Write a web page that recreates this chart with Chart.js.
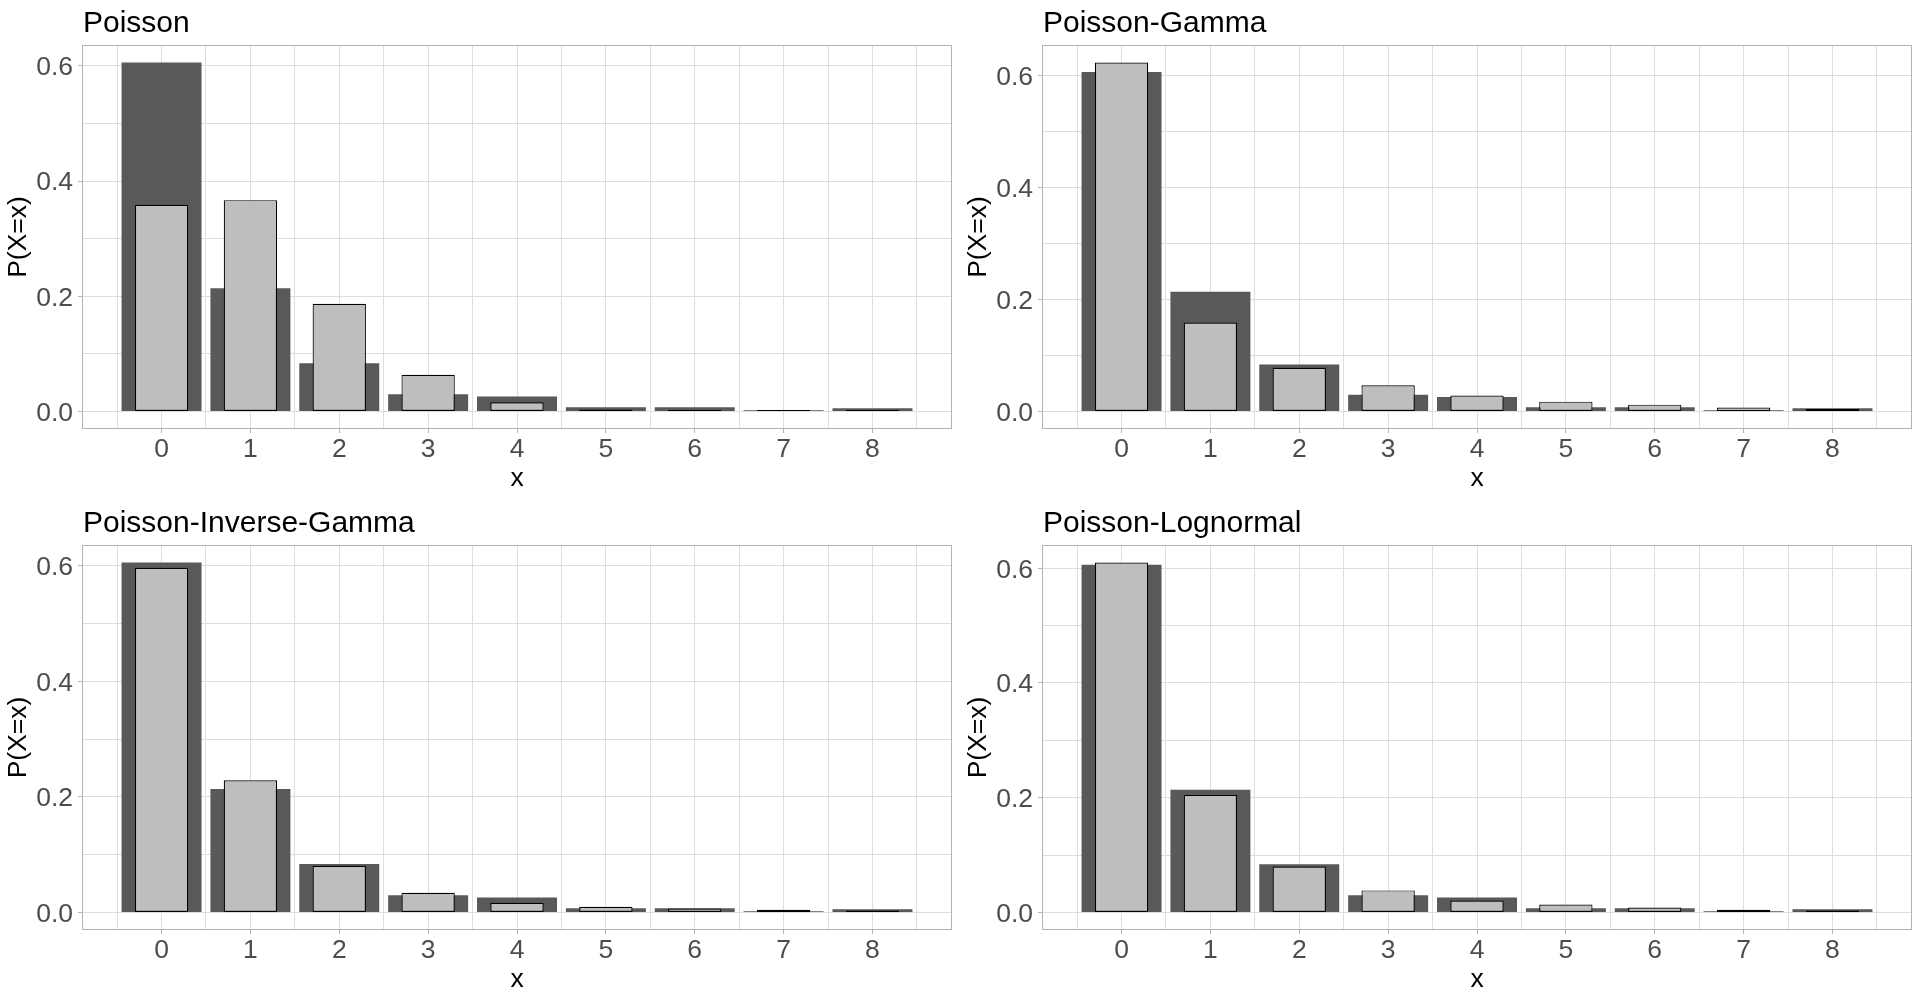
<!DOCTYPE html>
<html>
<head>
<meta charset="utf-8">
<script src="https://cdn.jsdelivr.net/npm/chart.js@4"></script>
<style>
  html, body { margin: 0; padding: 0; background: #fff; }
  .grid { display: grid; grid-template-columns: 960px 960px; grid-template-rows: 500px 501px; width: 1920px; height: 1001px; }
  canvas { display: block; }
</style>
</head>
<body>
<div class="grid">
  <div><canvas id="c0" width="960" height="500"></canvas></div>
  <div><canvas id="c1" width="960" height="500"></canvas></div>
  <div><canvas id="c2" width="960" height="501"></canvas></div>
  <div><canvas id="c3" width="960" height="501"></canvas></div>
</div>
<script>
// counts on the x axis
const categories = [0, 1, 2, 3, 4, 5, 6, 7, 8];

// observed frequencies (dark bars, same in every panel)
const observed = [0.606, 0.214, 0.084, 0.030, 0.026, 0.0075, 0.0075, 0.0023, 0.0058];

// fitted probabilities (light bars)
const fitPoisson = [0.359, 0.367, 0.187, 0.064, 0.0162, 0.0034, 0.0006, 0.0001, 0.00001];
const fitPoissonGamma = [0.623, 0.159, 0.078, 0.047, 0.0285, 0.0177, 0.0123, 0.0070, 0.0046];
const fitPoissonInvGamma = [0.597, 0.229, 0.081, 0.034, 0.0168, 0.0098, 0.0070, 0.0046, 0.0035];
const fitPoissonLognormal = [0.610, 0.205, 0.080, 0.0385, 0.021, 0.014, 0.0087, 0.0047, 0.0035];

const panelTitles = ['Poisson', 'Poisson-Gamma', 'Poisson-Inverse-Gamma', 'Poisson-Lognormal'];
const panelFits = [fitPoisson, fitPoissonGamma, fitPoissonInvGamma, fitPoissonLognormal];

// y grid lines every 0.1, labels every 0.2
const yGridValues = [0, 0.1, 0.2, 0.3, 0.4, 0.5, 0.6];
const yLabelValues = [0, 0.2, 0.4, 0.6];

const FONT = "'Liberation Sans', Arial, sans-serif";
const GRID = '#DEDEDE';
const FRAME = '#B3B3B3';

// grid lines at every count and half way between
const xGridValues = categories.flatMap(c => [c - 0.5, c]).concat(categories[categories.length - 1] + 0.5);

const panelDecor = {
  id: 'panelDecor',
  afterDatasetsDraw(chart) {
    const a = chart.chartArea;
    const ctx = chart.ctx;
    ctx.save();
    ctx.strokeStyle = FRAME;
    ctx.lineWidth = 1;
    ctx.strokeRect(a.left + 0.5, a.top + 0.5, a.right - a.left - 1, a.bottom - a.top - 1);
    ctx.restore();
  },
  afterDraw(chart, args, opts) {
    const ctx = chart.ctx;
    ctx.save();
    ctx.font = '30px ' + FONT;
    ctx.fillStyle = '#000';
    ctx.textBaseline = 'alphabetic';
    ctx.textAlign = 'left';
    ctx.fillText(opts.text, chart.chartArea.left + 1, chart.chartArea.top - 13);
    ctx.restore();
  }
};

function makePanel(idx) {
  const fit = panelFits[idx];
  const hi = Math.max(...observed, ...fit);
  const xlo = categories[0] - 0.45, xhi = categories[categories.length - 1] + 0.45;
  const xpad = (xhi - xlo) * 0.05;

  new Chart(document.getElementById('c' + idx), {
    type: 'bar',
    data: {
      datasets: [
        {
          label: 'fitted',
          data: categories.map((c, i) => ({ x: c, y: fit[i] })),
          backgroundColor: '#BEBEBE',
          borderColor: '#000',
          borderWidth: 1.2,
          borderSkipped: false,
          grouped: false,
          categoryPercentage: 1,
          barPercentage: 0.6 / 0.5,   // ruler spacing is the 0.5 grid step
          minBarLength: 1.5,
          order: 1
        },
        {
          label: 'observed',
          data: categories.map((c, i) => ({ x: c, y: observed[i] })),
          backgroundColor: '#595959',
          borderWidth: 0,
          grouped: false,
          categoryPercentage: 1,
          barPercentage: 0.9 / 0.5,
          order: 2
        }
      ]
    },
    options: {
      responsive: false,
      animation: false,
      devicePixelRatio: 1,
      layout: { padding: { top: 45, right: 8, left: 0, bottom: 0 } },
      plugins: {
        legend: { display: false },
        tooltip: { enabled: false },
        panelDecor: { text: panelTitles[idx] }
      },
      scales: {
        x: {
          type: 'linear',
          offset: false,
          min: xlo - xpad,
          max: xhi + xpad,
          afterBuildTicks: s => { s.ticks = xGridValues.map(v => ({ value: v })); },
          afterFit: s => { s.height = 71; },
          border: { display: false },
          grid: {
            offset: false,
            color: GRID,
            lineWidth: 1,
            tickLength: 4,
            tickColor: ctx => Number.isInteger(ctx.tick.value) ? FRAME : 'rgba(0,0,0,0)'
          },
          ticks: {
            autoSkip: false,
            maxRotation: 0,
            padding: 1,
            color: '#4D4D4D',
            font: { family: FONT, size: 26.5 },
            callback: v => Number.isInteger(v) ? String(v) : ''
          },
          title: {
            display: true,
            text: 'x',
            color: '#000',
            font: { family: FONT, size: 26.5 },
            padding: { top: 0, bottom: 5 }
          }
        },
        y: {
          min: -0.05 * hi,
          max: 1.05 * hi,
          afterBuildTicks: s => { s.ticks = yGridValues.map(v => ({ value: v })); },
          afterFit: s => { s.width = 82; },
          border: { display: false },
          grid: {
            color: GRID,
            lineWidth: 1,
            tickLength: 4,
            tickColor: ctx => yLabelValues.some(v => Math.abs(v - ctx.tick.value) < 1e-9) ? FRAME : 'rgba(0,0,0,0)'
          },
          ticks: {
            padding: 5,
            labelOffset: 2,
            color: '#4D4D4D',
            font: { family: FONT, size: 26.5 },
            callback: v => yLabelValues.some(l => Math.abs(l - v) < 1e-9) ? v.toFixed(1) : ''
          },
          title: {
            display: true,
            text: 'P(X=x)',
            color: '#000',
            font: { family: FONT, size: 26.5 },
            padding: { top: 3, bottom: 0 }
          }
        }
      }
    },
    plugins: [panelDecor]
  });
}

panelTitles.forEach((t, i) => makePanel(i));
</script>
</body>
</html>
